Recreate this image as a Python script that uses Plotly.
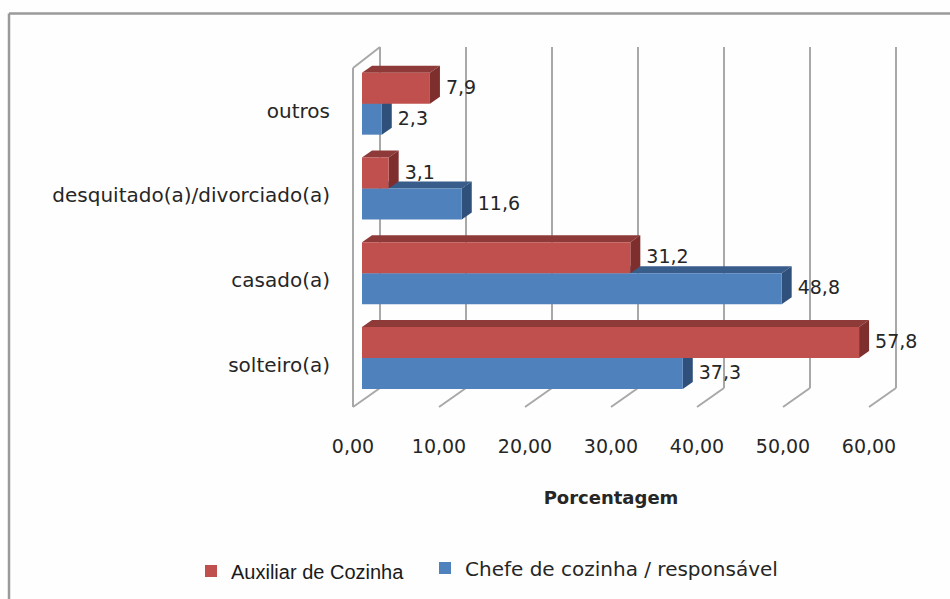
import plotly.graph_objects as go

categories = ["solteiro(a)", "casado(a)", "desquitado(a)/divorciado(a)", "outros"]
auxiliar = [57.8, 31.2, 3.1, 7.9]
chefe = [37.3, 48.8, 11.6, 2.3]
x_ticks = [0, 10, 20, 30, 40, 50, 60]
x_tick_labels = ["0,00", "10,00", "20,00", "30,00", "40,00", "50,00", "60,00"]
name_aux = "Auxiliar de Cozinha"
name_chefe = "Chefe de cozinha / responsável"
RED, RED_TOP, RED_SIDE = "#C0504D", "#8E3A38", "#7E2F2D"
BLUE, BLUE_TOP, BLUE_SIDE = "#4F81BD", "#385D8A", "#2F507A"
GRID = "#a8a8a8"
TXT = "#262626"

W, H = 950, 599
L, R, T, B = 302, 920, 40, 425
PX_UNIT = 8.6      # px per percent
PX_CAT = 84.77     # px per category
X0_PX, Y0_PX = 362, 358
xr = [(L - X0_PX) / PX_UNIT, (R - X0_PX) / PX_UNIT]
yr = [(Y0_PX - B) / PX_CAT, (Y0_PX - T) / PX_CAT]
dx = lambda px: px / PX_UNIT
dy = lambda px: px / PX_CAT
px_x = lambda px: (px - L) / (R - L)
px_y = lambda py: (B - py) / (B - T)

BAR_W = 31 / PX_CAT
shapes = []

def line(x0, y0, x1, y1):
    shapes.append(dict(type="line", xref="x", yref="y", x0=x0, y0=y0, x1=x1, y1=y1,
                       layer="below", line=dict(color=GRID, width=2)))

# Walls and grid of the 3D box, derived from the tick values
BACK_X, FRONT_X = dx(18), dx(-9)
BACK_BOT, FRONT_BOT = dy(Y0_PX - 388), dy(Y0_PX - 407)
BACK_TOP, FRONT_TOP = dy(Y0_PX - 47), dy(Y0_PX - 68)
for t in x_ticks:
    line(t + BACK_X, BACK_BOT, t + BACK_X, BACK_TOP)
    line(t + BACK_X, BACK_BOT, t + FRONT_X, FRONT_BOT)
line(FRONT_X, FRONT_BOT, FRONT_X, FRONT_TOP)
line(FRONT_X, FRONT_TOP, BACK_X, BACK_TOP)

# Depth faces of each bar, derived from the values
DX, DY = dx(10), dy(7)

def faces(values, offset, top, side):
    for i, v in enumerate(values):
        y_hi = i + offset + BAR_W / 2
        y_lo = i + offset - BAR_W / 2
        top_path = f"M 0 {y_hi} L {v} {y_hi} L {v + DX} {y_hi + DY} L {DX} {y_hi + DY} Z"
        side_path = f"M {v} {y_lo} L {v} {y_hi} L {v + DX} {y_hi + DY} L {v + DX} {y_lo + DY} Z"
        for p, c in ((top_path, top), (side_path, side)):
            shapes.append(dict(type="path", xref="x", yref="y", path=p, layer="below",
                               fillcolor=c, line=dict(width=0)))

faces(chefe, -BAR_W / 2, BLUE_TOP, BLUE_SIDE)
faces(auxiliar, BAR_W / 2, RED_TOP, RED_SIDE)

# Outer frame: only left and top edges are visible
frame = dict(type="line", xref="paper", yref="paper", line=dict(color="#9a9a9a", width=2.5))
shapes.append({**frame, "x0": px_x(9), "y0": px_y(13.5), "x1": px_x(9), "y1": px_y(599)})
shapes.append({**frame, "x0": px_x(9), "y0": px_y(13.5), "x1": px_x(950), "y1": px_y(13.5)})

ypos = list(range(len(categories)))
fig = go.Figure()
fig.add_trace(go.Bar(y=ypos, x=chefe, orientation="h", name=name_chefe, legend="legend2",
                     marker=dict(color=BLUE, line=dict(width=0))))
fig.add_trace(go.Bar(y=ypos, x=auxiliar, orientation="h", name=name_aux, legend="legend",
                     marker=dict(color=RED, line=dict(width=0))))

LABEL_DX = dx(16)
LABEL_DY = dy(-1)
LABEL_SHIFT = dy(7)
fmt = lambda v: f"{v:.1f}".replace(".", ",")
for vals, off in ((chefe, -BAR_W / 2), (auxiliar, BAR_W / 2)):
    fig.add_trace(go.Scatter(x=[v + LABEL_DX for v in vals], y=[i + off + LABEL_DY for i in ypos],
                             mode="text", text=[fmt(v) for v in vals], textposition="middle right",
                             textfont=dict(family="DejaVu Sans", size=19, color=TXT),
                             showlegend=False, cliponaxis=False, hoverinfo="skip"))

fig.update_layout(
    width=W, height=H, autosize=False,
    margin=dict(l=L, r=W - R, t=T, b=H - B, pad=0, autoexpand=False),
    paper_bgcolor="#fefefe", plot_bgcolor="rgba(0,0,0,0)",
    barmode="group", bargap=1 - 2 * BAR_W, bargroupgap=0,
    shapes=shapes,
    xaxis=dict(range=xr, tickmode="array", tickvals=[t + FRONT_X for t in x_ticks], ticktext=x_tick_labels,
               showgrid=False, zeroline=False, showline=False, ticks="", ticklabelstandoff=8,
               automargin=True,
               tickfont=dict(family="DejaVu Sans", size=19, color=TXT),
               title=dict(text="<b>Porcentagem</b>", standoff=35,
                          font=dict(family="DejaVu Sans", size=18, color=TXT))),
    yaxis=dict(range=yr, tickmode="array", tickvals=[i - LABEL_SHIFT for i in ypos],
               ticktext=categories, showgrid=False, zeroline=False, showline=False, ticks="",
               ticklabelstandoff=-29, automargin=False,
               tickfont=dict(family="DejaVu Sans", size=20, color=TXT)),
    legend=dict(x=px_x(191), y=px_y(571), xanchor="left", yanchor="middle", bgcolor="rgba(0,0,0,0)",
                font=dict(family="Liberation Sans", size=20, color="#1a1a1a")),
    legend2=dict(x=px_x(425), y=px_y(568), xanchor="left", yanchor="middle", bgcolor="rgba(0,0,0,0)",
                 font=dict(family="DejaVu Sans", size=20, color=TXT)),
)
fig.write_html("out.html", config=dict(displayModeBar=False),
               post_script="document.body.style.margin='0';document.body.style.overflow='hidden';")
